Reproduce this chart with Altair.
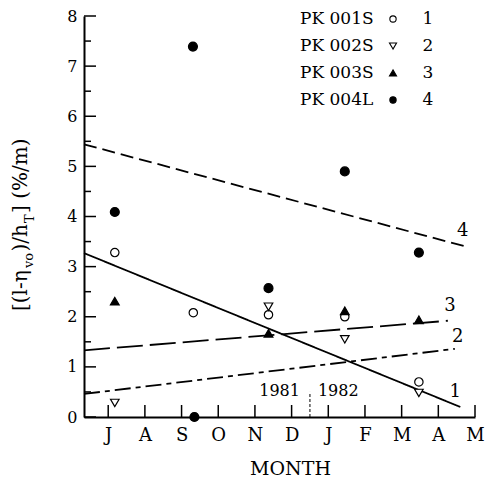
import json
import altair as alt
import pandas as pd

# ---------------- data ----------------
MONTH_LABELS = ["J", "A", "S", "O", "N", "D", "J", "F", "M", "A", "M"]
SERIES = ["PK 001S", "PK 002S", "PK 003S", "PK 004L"]
SERIES_NUM = ["1", "2", "3", "4"]

# month index (0 = July 1981)
pk001_x = [0.18, 2.32, 4.37, 6.45, 8.47]
pk001_y = [3.28, 2.08, 2.04, 2.00, 0.70]
pk002_x = [0.18, 4.37, 6.45, 8.47]
pk002_y = [0.28, 2.20, 1.55, 0.48]
pk003_x = [0.18, 4.37, 6.45, 8.47]
pk003_y = [2.31, 1.67, 2.12, 1.94]
pk004_x = [0.18, 2.31, 2.35, 4.37, 6.45, 8.47]
pk004_y = [4.09, 7.39, 0.00, 2.57, 4.90, 3.28]

# trend lines (end points)
trend1_x = [-0.66, 9.60]
trend1_y = [3.27, 0.20]
trend2_x = [-0.66, 9.45]
trend2_y = [0.46, 1.36]
trend3_x = [-0.66, 9.26]
trend3_y = [1.33, 1.92]
trend4_x = [-0.66, 9.80]
trend4_y = [5.44, 3.39]

YEAR_LABELS = ["1981", "1982"]
YEAR_BREAK = 5.5
YEAR_BREAK_TOP = 0.5
YEAR_LABEL_Y = 0.42
Y_TICKS_MAJOR = [0, 1, 2, 3, 4, 5, 6, 7, 8]
Y_TICKS_MINOR = [0.5, 1.5, 2.5, 3.5, 4.5, 5.5, 6.5, 7.5]
X_TICKS = list(range(11))

# ---------------- styles ----------------
FONT = "DejaVu Serif"
W, H = 391, 401
xscale = alt.Scale(domain=[-0.66, 10], nice=False, zero=False)
yscale = alt.Scale(domain=[0, 8], nice=False, zero=False)

SHAPES = ["circle", "triangle-down", "triangle-up", "circle"]
FILLS = ["white", "white", "black", "black"]
SIZES = [70, 80, 85, 90]
DASHES = [[1, 0], [16, 5, 5, 5], [26, 7], [13, 6]]
LABEL_OFFSETS = [(-5, -15), (3, -12), (2, -15), (-5, -16)]

label_expr = json.dumps(MONTH_LABELS) + "[datum.value]"
X_AXIS = alt.Axis(values=X_TICKS, labelExpr=label_expr, ticks=False, tickSize=0,
                  grid=False, title="MONTH", labelPadding=9, titlePadding=15,
                  labelOverlap=False, labelFlush=False, labelFontSize=18,
                  titleFontSize=19, titleFontWeight="normal", titleX=206)
Y_AXIS = alt.Axis(values=Y_TICKS_MAJOR, ticks=False, tickSize=0, grid=False, title=None,
                  labelPadding=7, labelFlush=False, labelFontSize=16)


def X(field):
    return alt.X(field, scale=xscale, axis=X_AXIS, title="MONTH")


def Y(field):
    return alt.Y(field, scale=yscale, axis=Y_AXIS, title=None)


# ---------------- tables ----------------
pts = pd.concat([
    pd.DataFrame({"series": SERIES[0], "x": pk001_x, "y": pk001_y}),
    pd.DataFrame({"series": SERIES[1], "x": pk002_x, "y": pk002_y}),
    pd.DataFrame({"series": SERIES[2], "x": pk003_x, "y": pk003_y}),
    pd.DataFrame({"series": SERIES[3], "x": pk004_x, "y": pk004_y}),
])
trends = [(trend1_x, trend1_y), (trend2_x, trend2_y), (trend3_x, trend3_y), (trend4_x, trend4_y)]
trend_df = pd.concat([
    pd.DataFrame({"line": SERIES_NUM[i], "x": tx, "y": ty}) for i, (tx, ty) in enumerate(trends)
])

lines = alt.Chart(trend_df).mark_line(color="black", strokeWidth=1.8).encode(
    x=X("x:Q"), y=Y("y:Q"),
    detail="line:N",
    strokeDash=alt.StrokeDash("line:N", scale=alt.Scale(domain=SERIES_NUM, range=DASHES), legend=None),
)
layers = [lines]

# line labels
for i, (tx, ty) in enumerate(trends):
    dx, dy = LABEL_OFFSETS[i]
    ldf = pd.DataFrame({"x": [tx[-1]], "y": [ty[-1]], "t": [SERIES_NUM[i]]})
    layers.append(alt.Chart(ldf).mark_text(font=FONT, fontSize=18, dx=dx, dy=dy, color="black").encode(
        x=X("x:Q"), y=Y("y:Q"), text="t:N"))

points = alt.Chart(pts).mark_point(stroke="black", strokeWidth=1.2, fillOpacity=1, opacity=1).encode(
    x=X("x:Q"), y=Y("y:Q"),
    shape=alt.Shape("series:N", scale=alt.Scale(domain=SERIES, range=SHAPES), legend=None),
    fill=alt.Fill("series:N", scale=alt.Scale(domain=SERIES, range=FILLS), legend=None),
    size=alt.Size("series:N", scale=alt.Scale(domain=SERIES, range=SIZES), legend=None),
)
layers.append(points)

# inward ticks
ymaj = alt.Chart(pd.DataFrame({"y": Y_TICKS_MAJOR})).mark_rule(color="black", strokeWidth=1.5).encode(
    y=Y("y:Q"), x=alt.value(0), x2=alt.value(12))
ymin = alt.Chart(pd.DataFrame({"y": Y_TICKS_MINOR})).mark_rule(color="black", strokeWidth=1.5).encode(
    y=Y("y:Q"), x=alt.value(0), x2=alt.value(7))
xt = alt.Chart(pd.DataFrame({"x": X_TICKS})).mark_rule(color="black", strokeWidth=1.5).encode(
    x=X("x:Q"), y=alt.value(H), y2=alt.value(H - 12))
layers += [ymaj, ymin, xt]

# year break
ybdf = pd.DataFrame({"x": [YEAR_BREAK], "y": [0.0], "y2": [YEAR_BREAK_TOP]})
yb = alt.Chart(ybdf).mark_rule(color="black", strokeWidth=1, strokeDash=[3, 2]).encode(
    x=X("x:Q"), y=Y("y:Q"), y2="y2:Q")
layers.append(yb)
for i, (al, dx) in enumerate([("right", -10), ("left", 8)]):
    ydf = pd.DataFrame({"x": [YEAR_BREAK], "y": [YEAR_LABEL_Y], "t": [YEAR_LABELS[i]]})
    layers.append(alt.Chart(ydf).mark_text(font=FONT, fontSize=16, align=al, dx=dx, color="black",
                                           baseline="alphabetic").encode(
        x=X("x:Q"), y=Y("y:Q"), text="t:N"))

# custom legend
for i in range(4):
    rdf = pd.DataFrame({"name": [SERIES[i]], "num": [SERIES_NUM[i]], "series": [SERIES[i]]})
    yy = 3 + 27 * i
    layers.append(alt.Chart(rdf).mark_text(font=FONT, fontSize=17, align="left", baseline="middle",
                                           color="black").encode(
        x=alt.value(216), y=alt.value(yy), text="name:N"))
    layers.append(alt.Chart(rdf).mark_text(font=FONT, fontSize=17, align="center", baseline="middle",
                                           color="black").encode(
        x=alt.value(344), y=alt.value(yy), text="num:N"))
    layers.append(alt.Chart(rdf).mark_point(stroke="black", strokeWidth=1.1, fillOpacity=1, opacity=1,
                                            size=40 if SHAPES[i] == "circle" else 50).encode(
        x=alt.value(309), y=alt.value(yy),
        shape=alt.Shape("series:N", scale=alt.Scale(domain=SERIES, range=SHAPES), legend=None),
        fill=alt.Fill("series:N", scale=alt.Scale(domain=SERIES, range=FILLS), legend=None)))

# y axis title with subscripts (rotated pieces)
TITLE_PIECES = [("[(l-η", 20, -57, 295), ("vo", 13, -51, 252), (")/h", 20, -57, 235.5),
                ("T", 13, -50, 207), ("] (%/m)", 20, -57, 197)]
for txt, fs, px, py in TITLE_PIECES:
    tdf = pd.DataFrame({"t": [txt]})
    layers.append(alt.Chart(tdf).mark_text(font=FONT, fontSize=fs, angle=270, align="left",
                                           baseline="alphabetic", color="black").encode(
        x=alt.value(px), y=alt.value(py), text="t:N"))

chart = alt.layer(*layers).properties(
    width=W, height=H,
    autosize=alt.AutoSizeParams(type="none"),
    padding={"left": 76, "top": 8, "right": 10, "bottom": 60},
).configure_view(stroke=None).configure_axis(
    domainColor="black", domainWidth=2, labelFont=FONT, titleFont=FONT,
    labelColor="black", titleColor="black",
)

chart.save("out.html", embed_options={"renderer": "svg", "actions": False})
